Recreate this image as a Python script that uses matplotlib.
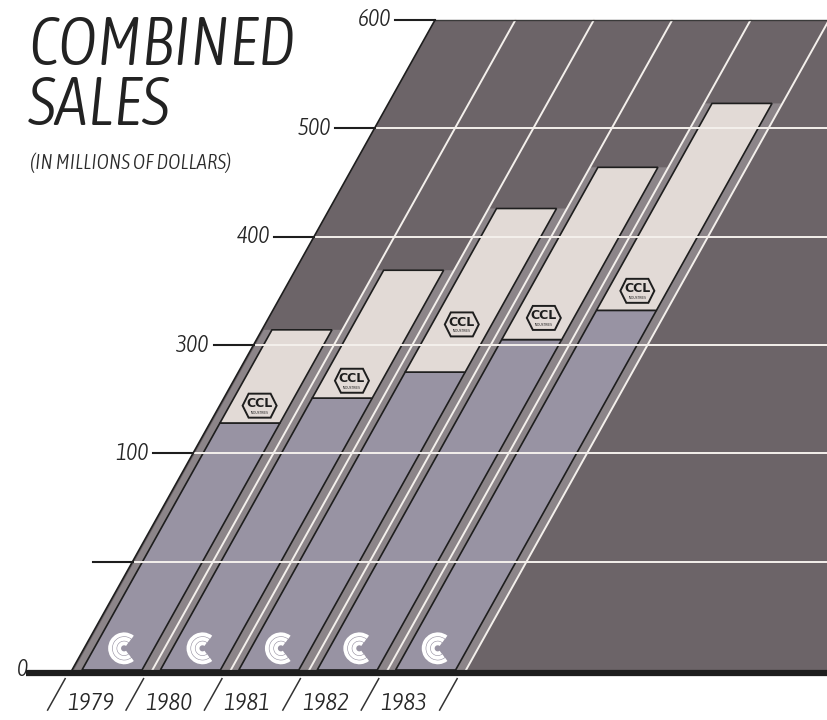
import numpy as np
import matplotlib.pyplot as plt
import matplotlib.transforms as mtransforms
from matplotlib import font_manager
from matplotlib.font_manager import FontProperties
from matplotlib.patches import Polygon, Arc

# data (millions of dollars)
years = ['1979', '1980', '1981', '1982', '1983']
c_sales = [228, 251, 275, 305, 332]        # lower part of each bar
combined_sales = [314, 369, 426, 464, 523]  # top of each bar
ccl_sales = [t - c for t, c in zip(combined_sales, c_sales)]
tick_values = [0, 100, 200, 300, 400, 500, 600]
tick_labels = ['0', '', '100', '300', '400', '500', '600']

# colours
plane_col = '#6c6468'
halo_col = '#8c8589'
lower_col = '#9893a3'
upper_col = '#e2dad6'
white_col = '#f4f0ec'
ink = '#1e1e1e'


def weight_num(w):
    if isinstance(w, str):
        return font_manager.weight_dict.get(w, 400)
    return w


# look for a condensed italic face, light if possible
cands = [f for f in font_manager.fontManager.ttflist
         if f.style in ('italic', 'oblique')
         and f.stretch in ('condensed', 'semi-condensed', 'extra-condensed')]
cands.sort(key=lambda f: (f.stretch != 'condensed', abs(weight_num(f.weight) - 300)))
if cands:
    cond_file = cands[0].fname
    def cfont(size):
        return FontProperties(fname=cond_file, size=size)
else:
    def cfont(size):
        return FontProperties(family='Liberation Sans', style='italic', size=size * 0.85)

fig = plt.figure(figsize=(8.27, 7.2), dpi=100)
ax = fig.add_axes([0, 0, 1, 1])
ax.axis('off')

UNIT_PX = 650 / 600          # pixels per million
K = 0.605                    # slant: pixels right per million
shear = mtransforms.Affine2D(np.array([[1, K, 0], [0, 1, 0], [0, 0, 1]])) + ax.transData

EDGE = 72                    # plane edge at zero
X0 = 74                      # first column start
COLW = 78.4
BARW = 60
cols = X0 + COLW * np.arange(len(years))
bar_left = cols + 8
bar_mid = bar_left + BARW / 2

# slanted plane
ax.add_patch(Polygon([(EDGE, 0), (EDGE, 600), (1300, 600), (1300, 0)],
                     closed=True, fc=plane_col, ec='none', transform=shear, zorder=0))
ax.plot([EDGE, EDGE], [0, 600], color=ink, lw=1.2, transform=shear, zorder=5)
ax.plot([EDGE, 1300], [600, 600], color='#3a3a3a', lw=1.0, transform=shear, zorder=5)

# lighter band around each bar
ax.bar(cols, combined_sales, width=COLW, align='edge', color=halo_col,
       transform=shear, zorder=1)

# column separators
for i in range(1, len(years) + 1):
    xs = X0 + i * COLW
    ax.plot([xs, xs], [0, 600], color=white_col, lw=1.4, transform=shear, zorder=2)

# stacked bars
ax.bar(bar_left, c_sales, width=BARW, align='edge', color=lower_col,
       edgecolor=ink, lw=1.2, transform=shear, zorder=3)
ax.bar(bar_left, ccl_sales, bottom=c_sales, width=BARW, align='edge', color=upper_col,
       edgecolor=ink, lw=1.2, transform=shear, zorder=3)

# horizontal grid
for v in tick_values[1:-1]:
    ax.plot([EDGE, 1300], [v, v], color=white_col, lw=1.4, transform=shear, zorder=4)

# baseline and ticks
ax.plot([EDGE - 44, 1300], [-2.6, -2.6], color=ink, lw=4.5, solid_capstyle='butt',
        transform=shear, zorder=6)
for v, lbl in zip(tick_values, tick_labels):
    if v > 0:
        ax.plot([EDGE - 40, EDGE], [v, v], color=ink, lw=1.5, transform=shear, zorder=6)
    ax.text(EDGE - 44, v, lbl, ha='right', va='center', transform=shear,
            fontproperties=cfont(17), color='#262626')

# year labels and slashes below the baseline
for i, yr in enumerate(years):
    ax.text(cols[i] + COLW / 2 - 4, -31, yr, ha='center', va='center',
            transform=shear, fontproperties=cfont(18), color='#262626')
for i in range(len(years) + 1):
    xs = X0 + i * COLW - 4
    ax.plot([xs, xs], [-8, -37], color='#333333', lw=1.1, transform=shear)

# "C" logos at the foot of each bar
for xm in bar_mid:
    cx = xm + K * 20
    for r in (14, 9.5, 5):
        ax.add_patch(Arc((cx, 20), 2 * r, 2 * r / UNIT_PX, theta1=50, theta2=310,
                         color='white', lw=2.8, zorder=7))

# CCL logos in the upper part
logo_offset = [16, 16, 44, 20, 18]
for i in range(len(years)):
    v = c_sales[i] + logo_offset[i]
    cx = bar_mid[i] + K * v
    hx = np.array([-17, -11, 11, 17, 11, -11])
    hy = np.array([0, 12, 12, 0, -12, -12]) / UNIT_PX
    ax.add_patch(Polygon(np.column_stack([cx + hx, v + hy]), closed=True,
                         fc=upper_col, ec=ink, lw=1.4, zorder=7))
    ax.text(cx, v + 2 / UNIT_PX, 'CCL', ha='center', va='center', fontsize=9,
            fontweight='bold', family='DejaVu Sans', color=ink, zorder=8)
    ax.text(cx, v - 7 / UNIT_PX, 'INDUSTRIES', ha='center', va='center', fontsize=2.2,
            family='DejaVu Sans', color=ink, zorder=8)

# title block, in pixel coordinates from the top left
px = mtransforms.Affine2D().scale(1 / 827, -1 / 720).translate(0, 1) + fig.transFigure
fig.text(28, 125, 'COMBINED\nSALES', transform=px, va='baseline', ha='left',
         linespacing=0.9, fontproperties=cfont(48), color='#222222')
fig.text(30, 163, '(IN MILLIONS OF DOLLARS)', transform=px, va='center', ha='left',
         fontproperties=cfont(15), color='#2a2a2a')

ax.set_xlim(0, 827)
ax.set_ylim(-50 / UNIT_PX, 670 / UNIT_PX)
fig.savefig('out.png', dpi=100)
